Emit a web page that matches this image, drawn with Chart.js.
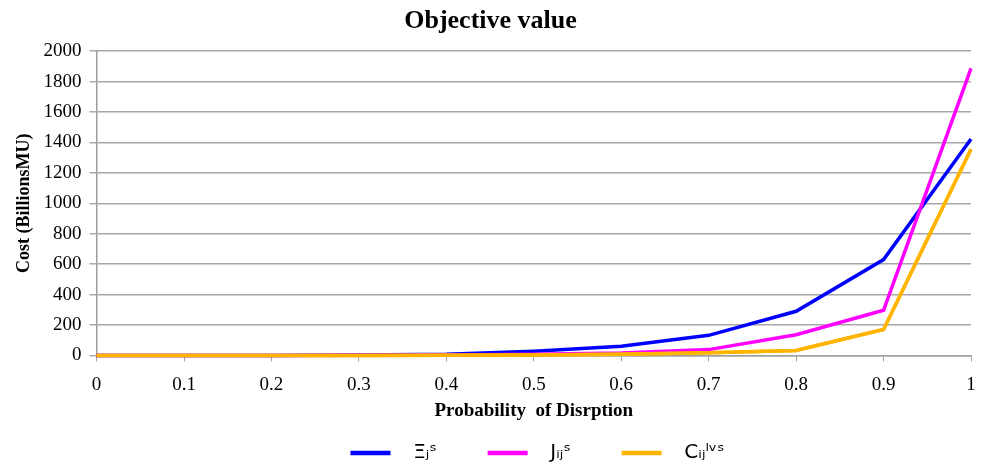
<!DOCTYPE html>
<html><head><meta charset="utf-8">
<script src="https://cdn.jsdelivr.net/npm/chart.js@4/dist/chart.umd.min.js"></script>
<style>html,body{margin:0;padding:0;background:#fff}#wrap{width:989px;height:469px}</style>
</head><body><div id="wrap"><canvas id="c" width="989" height="469"></canvas></div>
<script>
const xValues = [0, 0.1, 0.2, 0.3, 0.4, 0.5, 0.6, 0.7, 0.8, 0.9, 1];
const xiValues = [0, 0, 0, 2, 8, 28, 60, 132, 290, 630, 1423];
const jValues = [0, 0, 0, 1, 3, 8, 15, 38, 136, 297, 1887];
const cValues = [0, 0, 0, 0, 1, 3, 8, 18, 33, 170, 1355];
const seriesLabels = ['Ξⱼˢ', 'Jᵢⱼˢ', 'Cᵢⱼˡᵛˢ'];
const seriesColors = ['#0000ff', '#ff00ff', '#ffb400'];
const yTicks = [0, 200, 400, 600, 800, 1000, 1200, 1400, 1600, 1800, 2000];

const mk = (vals, i) => ({
  label: seriesLabels[i],
  data: xValues.map((x, k) => ({x: x, y: vals[k]})),
  borderColor: seriesColors[i],
  backgroundColor: seriesColors[i],
  borderWidth: 3.5,
  pointRadius: 0,
  tension: 0,
  fill: false,
  clip: 6,
  legendIndex: i
});

const topOrange = {
  id: 'topOrange',
  afterDatasetsDraw(chart) {
    const meta = chart.getDatasetMeta(0);
    if (meta && meta.controller) meta.controller.draw();
  }
};
const legendShift = {
  id: 'legendShift',
  afterLayout(chart) {
    if (chart.legend) {
      chart.legend.left += 47; chart.legend.right += 47;
      chart.legend.top += 4; chart.legend.bottom += 4;
    }
  }
};

new Chart(document.getElementById('c'), {
  type: 'line',
  data: { datasets: [mk(cValues, 2), mk(jValues, 1), mk(xiValues, 0)] },
  plugins: [topOrange, legendShift],
  options: {
    responsive: false,
    animation: false,
    layout: { padding: { left: 10, right: 18, top: 2, bottom: 0 } },
    plugins: {
      title: {
        display: true, text: 'Objective value', color: '#000',
        font: { family: '"Liberation Serif", serif', size: 26, weight: 'bold' },
        padding: { top: 4, bottom: 14 }
      },
      legend: {
        position: 'bottom',
        labels: {
          color: '#000', boxWidth: 40, boxHeight: 0, padding: 0,
          font: { family: '"DejaVu Sans", sans-serif', size: 20 },
          generateLabels: (chart) => {
            const ds = chart.data.datasets;
            return ds.map((d, i) => ({ d: d, i: i }))
              .sort((a, b) => a.d.legendIndex - b.d.legendIndex)
              .map(o => ({
                text: '  ' + o.d.label + (o.d.legendIndex < 2 ? '        ' : ''),
                fillStyle: o.d.borderColor, strokeStyle: o.d.borderColor,
                lineWidth: 4.5, datasetIndex: o.i, fontColor: '#000'
              }));
          }
        }
      }
    },
    scales: {
      x: {
        type: 'linear', min: 0, max: 1,
        ticks: { stepSize: 0.1, color: '#000', padding: 12,
          font: { family: '"Liberation Serif", serif', size: 19 },
          callback: (v) => String(Math.round(v * 10) / 10) },
        grid: { drawOnChartArea: false, drawTicks: true, tickLength: 6, color: '#a0a0a0' },
        border: { color: '#a0a0a0', width: 1.5 },
        title: { display: true, text: 'Probability  of Disrption', color: '#000',
          font: { family: '"Liberation Serif", serif', size: 19, weight: 'bold' }, padding: { top: -9, bottom: 17 } }
      },
      y: {
        min: 0, max: 2000,
        afterBuildTicks: (s) => { s.ticks = yTicks.map(v => ({value: v})); },
        ticks: { color: '#000', padding: 8,
          font: { family: '"Liberation Serif", serif', size: 19 },
          callback: (v) => String(v) },
        grid: { color: '#a8a8a8', lineWidth: 1.5, drawTicks: true, tickLength: 7 },
        border: { color: '#a0a0a0', width: 1.5 },
        title: { display: true, text: 'Cost (BillionsMU)', color: '#000',
          font: { family: '"Liberation Serif", serif', size: 18, weight: 'bold' }, padding: { bottom: 0 } }
      }
    }
  }
});
</script></body></html>
